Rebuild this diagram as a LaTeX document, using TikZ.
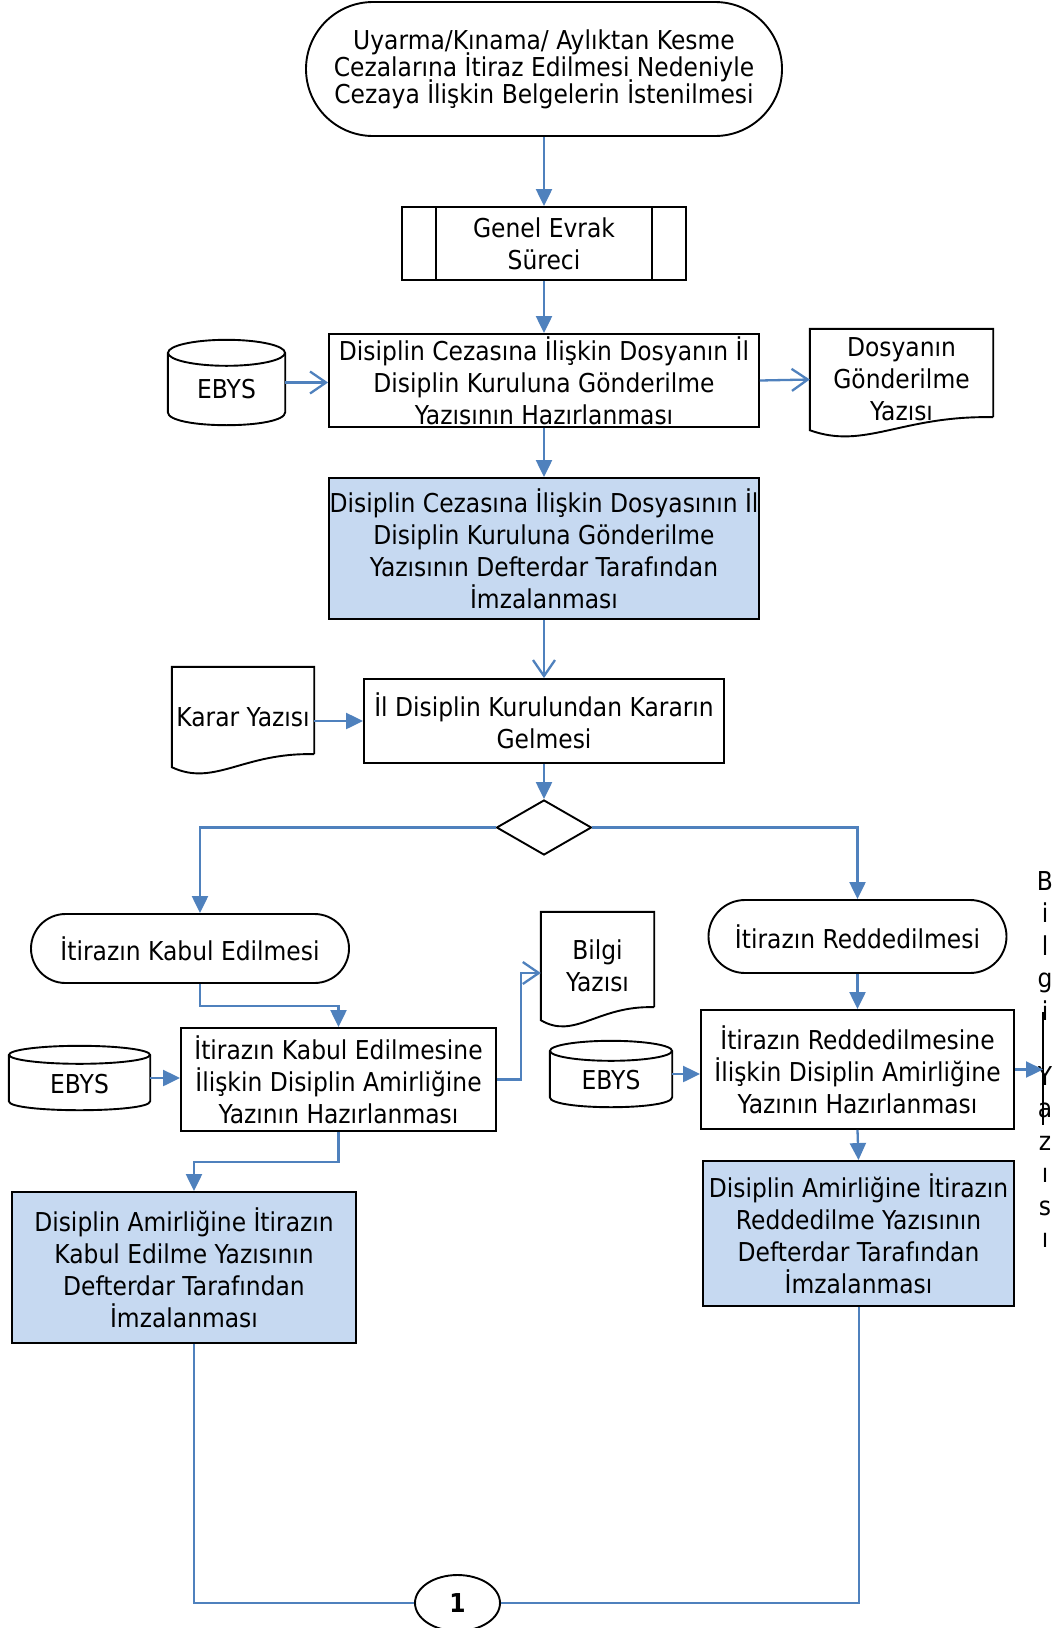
\documentclass[tikz,border=0pt]{standalone}
\usepackage{fontspec}
\setmainfont{DejaVu Sans}[FakeStretch=0.9]
\usetikzlibrary{arrows.meta,shapes.misc,shapes.geometric,calc}
\definecolor{lblue}{RGB}{79,129,189}
\definecolor{lfill}{RGB}{198,217,241}
\newcommand\fsz{\fontsize{26pt}{32pt}\selectfont}
\newcommand\startfsz{\fontsize{26pt}{27pt}\selectfont\lineskiplimit -60pt\relax}
% cylinder outline around node #1, x radius #2, y radius #3
\newcommand\cylout[3]{%
  \draw[outl] ([yshift=-#3pt]#1.north) ellipse [x radius=#2pt, y radius=#3pt];
  \draw[outl] ([yshift=-#3pt]#1.north west) -- ([yshift=#3pt]#1.south west)
     .. controls +(0pt,{-1.333*#3pt}) and +(0pt,{-1.333*#3pt}) .. ([yshift=#3pt]#1.south east)
     -- ([yshift=-#3pt]#1.north east);}
% document outline around node #1 of width #2
\newcommand\docout[2]{%
  \draw[outl] ([yshift=13pt]#1.south east) -- (#1.north east) -- (#1.north west) -- (#1.south west)
     .. controls +({0.3*#2pt},-20pt) and +({-0.5*#2pt},2pt) .. ([yshift=13pt]#1.south east);}
\begin{document}
\begin{tikzpicture}[x=1pt,y=-1pt,
  outl/.style={draw=black, line width=1.9pt},
  box/.style={draw=black, line width=1.9pt, inner sep=0pt, align=center, font=\fsz},
  bluebox/.style={box, fill=lfill},
  term/.style={rounded rectangle, draw=black, line width=1.9pt, inner sep=0pt, align=center, font=\fsz},
  doctext/.style={inner sep=0pt, align=center, font=\fsz},
  cyltext/.style={inner sep=0pt, font=\fsz},
  arr/.style={draw=lblue, line width=2.3pt, -{Triangle[length=17pt,width=16pt]}},
  varr/.style={draw=lblue, line width=2.3pt, -{Straight Barb[length=16pt,width=22pt]}},
  conn/.style={draw=lblue, line width=2pt}]
\fill[white] (0,0) rectangle (1055,1628);
\useasboundingbox (0,0) rectangle (1055,1628);

% nodes
\node[term, minimum width=476pt, minimum height=134pt, font=\startfsz] (start) at (544,69)
  {Uyarma/Kınama/ Aylıktan Kesme\\Cezalarına İtiraz Edilmesi Nedeniyle\\Cezaya İlişkin Belgelerin İstenilmesi};
\node[box, minimum width=284pt, minimum height=73pt] (genel) at (544,243.5) {Genel Evrak\\Süreci};
\draw[outl] ([xshift=35pt]genel.north west) -- ([xshift=35pt]genel.south west);
\draw[outl] ([xshift=-35pt]genel.north east) -- ([xshift=-35pt]genel.south east);

\node[box, minimum width=430pt, minimum height=93pt] (box3) at (544,380.5)
  {Disiplin Cezasına İlişkin Dosyanın İl\\Disiplin Kuruluna Gönderilme\\Yazısının Hazırlanması};
\node[cyltext, minimum width=117pt, minimum height=85pt] (ebys1) at (226.5,382.5) {};
\cylout{ebys1}{58.5}{13}
\node[cyltext] at ([yshift=-7pt]ebys1.center) {EBYS};
\node[doctext, minimum width=183pt, minimum height=101pt] (dos) at (901.5,379.5) {Dosyanın\\Gönderilme\\Yazısı};
\docout{dos}{183}

\node[bluebox, minimum width=430pt, minimum height=141pt] (box4) at (544,548.5)
  {Disiplin Cezasına İlişkin Dosyasının İl\\Disiplin Kuruluna Gönderilme\\Yazısının Defterdar Tarafından\\İmzalanması};
\node[doctext, minimum width=142pt, minimum height=100pt] (karar) at (243,717) {Karar Yazısı};
\docout{karar}{142}
\node[box, minimum width=360pt, minimum height=84pt] (box5) at (544,721)
  {İl Disiplin Kurulundan Kararın\\Gelmesi};
\node[diamond, draw=black, line width=1.9pt, inner sep=0pt, minimum width=95pt, minimum height=55pt] (dia) at (544,827.5) {};

\node[term, minimum width=318pt, minimum height=69pt] (kabT) at (190,948.5) {İtirazın Kabul Edilmesi};
\node[term, minimum width=298pt, minimum height=73pt] (redT) at (857.5,936.5) {İtirazın Reddedilmesi};
\node[doctext, minimum width=113pt, minimum height=108pt] (bilgi) at (597.5,966) {Bilgi\\Yazısı};
\docout{bilgi}{113}

\node[box, minimum width=315pt, minimum height=103pt] (kabB) at (338.5,1079.5)
  {İtirazın Kabul Edilmesine\\İlişkin Disiplin Amirliğine\\Yazının Hazırlanması};
\node[cyltext, minimum width=141pt, minimum height=64pt] (ebys2) at (79.5,1078) {};
\cylout{ebys2}{70.5}{9}
\node[cyltext] at ([yshift=-6pt]ebys2.center) {EBYS};

\node[box, minimum width=313pt, minimum height=119pt] (redB) at (857.5,1069.5)
  {İtirazın Reddedilmesine\\İlişkin Disiplin Amirliğine\\Yazının Hazırlanması};
\node[cyltext, minimum width=122pt, minimum height=66pt] (ebys3) at (611,1074) {};
\cylout{ebys3}{61}{10}
\node[cyltext] at ([yshift=-6pt]ebys3.center) {EBYS};

\node[bluebox, minimum width=344pt, minimum height=151pt] (kabS) at (184,1267.5)
  {Disiplin Amirliğine İtirazın\\Kabul Edilme Yazısının\\Defterdar Tarafından\\İmzalanması};
\node[bluebox, minimum width=311pt, minimum height=145pt] (redS) at (858.5,1233.5)
  {Disiplin Amirliğine İtirazın\\Reddedilme Yazısının\\Defterdar Tarafından\\İmzalanması};

\node[ellipse, draw=black, line width=1.9pt, inner sep=0pt, minimum width=85pt, minimum height=56pt,
  font=\fsz\bfseries] (one) at (457.5,1603) {1};

% degenerate Bilgi Yazısı document at the right edge
\coordinate (bv1) at (1043,1012);
\coordinate (bv2) at (1043,1125);
\draw[draw=black, line width=1.6pt] (bv1) -- (bv2);
\node[inner sep=0pt, align=center, anchor=north, font=\fontsize{26pt}{32.5pt}\selectfont] (bvt) at (1045,871)
  {B\\i\\l\\g\\i\\\mbox{}\\Y\\a\\z\\ı\\s\\ı};

% connectors
\draw[arr] (start.south) -- (genel.north);
\draw[arr] (genel.south) -- (box3.north);
\draw[varr] (ebys1.east) -- (box3.west |- ebys1.east);
\draw[varr] (box3.east) -- (dos.west);
\draw[arr] (box3.south) -- (box4.north);
\draw[varr] (box4.south) -- (box5.north);
\draw[arr] (karar.east |- box5.west) -- (box5.west);
\draw[arr] (box5.south) -- (dia.north);
\draw[arr] (dia.west) -| ([xshift=10pt]kabT.north);
\draw[arr] (dia.east) -| (redT.north);
\draw[arr] ([xshift=10pt]kabT.south) -- ++(0,22) -| (kabB.north);
\draw[arr] (ebys2.east) -- (kabB.west |- ebys2.east);
\draw[varr] (kabB.east) -- ++(24,0) |- ([yshift=-7pt]bilgi.west);
\draw[arr] (kabB.south) -- ++(0,30) -| ([xshift=10pt]kabS.north);
\draw[arr] (redT.south) -- (redB.north);
\draw[arr] (ebys3.east) -- (redB.west |- ebys3.east);
\draw[arr] (redB.east) -- (redB.east -| bv1);
\draw[arr] (redB.south) -- (redS.north);
\draw[conn] ([xshift=10pt]kabS.south) |- (one.west);
\draw[conn] (redS.south) |- (one.east);
\end{tikzpicture}
\end{document}
